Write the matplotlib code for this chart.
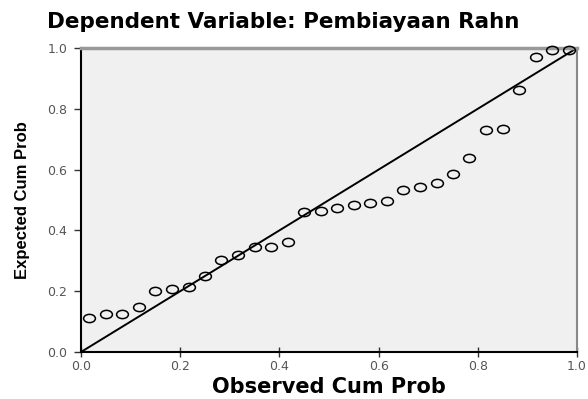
import numpy as np
import matplotlib
matplotlib.use('Agg')
import matplotlib.pyplot as plt
from matplotlib.path import Path

# observed vs expected cumulative probability
observed = [0.017, 0.050, 0.083, 0.117, 0.150, 0.183, 0.217, 0.250, 0.283, 0.317,
            0.350, 0.383, 0.417, 0.450, 0.483, 0.517, 0.550, 0.583, 0.617, 0.650,
            0.683, 0.717, 0.750, 0.783, 0.817, 0.850, 0.883, 0.917, 0.950, 0.983]
expected = [0.112, 0.125, 0.125, 0.149, 0.202, 0.208, 0.215, 0.250, 0.303, 0.320,
            0.346, 0.344, 0.361, 0.460, 0.465, 0.473, 0.485, 0.491, 0.498, 0.533,
            0.544, 0.557, 0.586, 0.637, 0.730, 0.735, 0.862, 0.971, 0.993, 0.995]
ticks = [0.0, 0.2, 0.4, 0.6, 0.8, 1.0]
tick_labels = ['0.0', '0.2', '0.4', '0.6', '0.8', '1.0']

fig = plt.figure(figsize=(5.88, 3.99), dpi=100)
ax = fig.add_axes([81/588, 1-352/399, 496/588, 304/399])
ax.set_facecolor('#f0f0f0')

# reference diagonal
ax.plot([0, 1], [0, 1], color='black', lw=1.4, zorder=2)

# slightly flattened circles like the original
circ = Path.unit_circle()
ell = Path(circ.vertices * [1.0, 0.7], circ.codes)
ax.plot(observed, expected, linestyle='none', marker=ell, markersize=8.5,
        markerfacecolor='none', markeredgecolor='black', markeredgewidth=1.1,
        zorder=3, clip_on=False)

ax.set_xlim(0, 1)
ax.set_ylim(0, 1)
ax.set_xticks(ticks)
ax.set_xticklabels(tick_labels)
ax.set_yticks(ticks)
ax.set_yticklabels(tick_labels)
ax.tick_params(axis='x', direction='inout', length=7, width=1, colors='#333333',
               labelsize=9, labelcolor='#555555', pad=2)
ax.tick_params(axis='y', direction='out', length=5, width=1, colors='#333333',
               labelsize=9, labelcolor='#555555', pad=5)

for s in ['left', 'bottom']:
    ax.spines[s].set_color('black')
    ax.spines[s].set_linewidth(1.5)
ax.spines['top'].set_color('#999999')
ax.spines['top'].set_linewidth(2.5)
ax.spines['right'].set_color('#888888')
ax.spines['right'].set_linewidth(1.5)

ax.set_xlabel('Observed Cum Prob', fontsize=15, fontweight='bold',
              family='DejaVu Sans', labelpad=3)
ax.set_ylabel('Expected Cum Prob', fontsize=12, fontweight='bold',
              family=['Liberation Sans', 'DejaVu Sans'], labelpad=12)
fig.text(283/588, 1-22/399, 'Dependent Variable: Pembiayaan Rahn', ha='center',
         va='center', fontsize=15.5, fontweight='bold', family='DejaVu Sans')

fig.savefig('out.png', dpi=100)
